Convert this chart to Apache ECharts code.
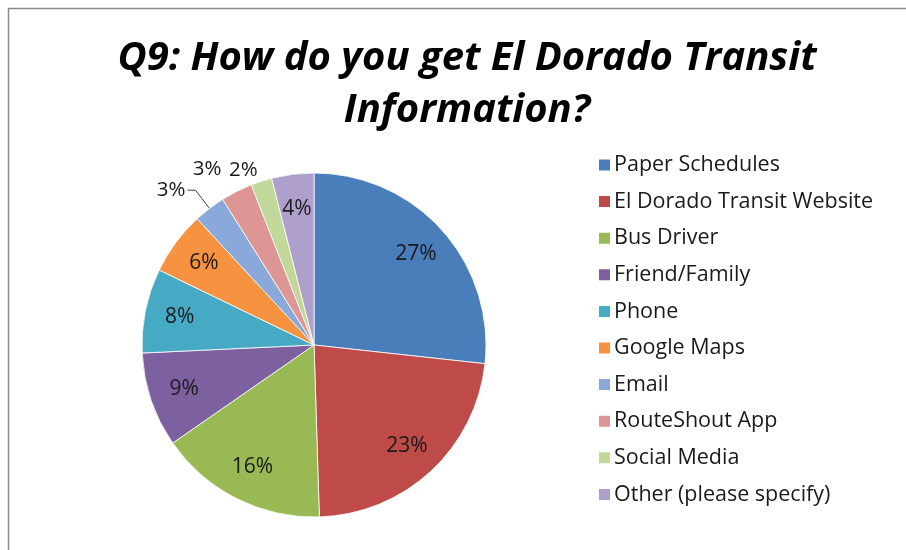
<!DOCTYPE html>
<html>
<head>
<meta charset="utf-8">
<script src="https://cdn.jsdelivr.net/npm/echarts@6/dist/echarts.min.js"></script>
<style>
html,body{margin:0;padding:0;background:#fff;}
#main{width:906px;height:550px;}
</style>
</head>
<body>
<div id="main"></div>
<script>
var categories = ['Paper Schedules','El Dorado Transit Website','Bus Driver','Friend/Family','Phone','Google Maps','Email','RouteShout App','Social Media','Other (please specify)'];
var values = [27, 23, 16, 9, 8, 6, 3, 3, 2, 4];
var colors = ['#4A7EBB','#BE4B48','#98B954','#7D60A0','#46AAC5','#F69240','#8AA8DA','#DE9694','#C1D89A','#AE9FCB'];

var chart = echarts.init(document.getElementById('main'));

var pieData = categories.map(function(n, i){
  return {name: n, value: values[i], itemStyle: {color: colors[i]}};
});

var outsideCfg = {
  6: {length: 23, length2: 8, showLine: true, dist: 2},
  7: {length: 25, length2: 4, showLine: false, dist: 0},
  8: {length: 12, length2: 0, showLine: false, dist: 0}
};

var labelData = categories.map(function(n, i){
  var d = {name: n, value: values[i], itemStyle: {color: 'rgba(0,0,0,0)'}};
  if (outsideCfg[i]) {
    d.label = {position: 'outside', distanceToLabelLine: outsideCfg[i].dist, fontSize: 20.5};
    d.labelLine = {show: true, length: outsideCfg[i].length, length2: outsideCfg[i].length2,
      lineStyle: {color: outsideCfg[i].showLine ? '#404040' : 'rgba(0,0,0,0)', width: 1}};
  }
  return d;
});

chart.setOption({
  animation: false,
  title: {
    text: 'Q9: How do you get El Dorado Transit\nInformation?',
    left: 462, top: 28, textAlign: 'center',
    textStyle: {fontFamily: 'Open Sans', fontSize: 40, fontWeight: 'bold', fontStyle: 'italic', color: '#000', lineHeight: 52}
  },
  legend: {
    orient: 'vertical', left: 592, top: 149,
    itemWidth: 13, itemHeight: 13, itemGap: 14.6,
    icon: 'rect',
    data: categories,
    textStyle: {fontFamily: 'Open Sans', fontSize: 21.5, color: '#1a1a1a', padding: [0,0,0,-2]},
    selectedMode: false
  },
  graphic: [{
    type: 'rect', silent: true, z: -1,
    shape: {x: 8.5, y: 8.5, width: 1000, height: 1000},
    style: {fill: 'none', stroke: '#8a8a8a', lineWidth: 1.5}
  }],
  series: [{
    type: 'pie',
    center: [314, 345], radius: [0, 172],
    startAngle: 90, clockwise: true,
    silent: true,
    label: {show: false}, labelLine: {show: false},
    itemStyle: {borderColor: '#fff', borderWidth: 0.8},
    data: pieData
  }, {
    type: 'pie',
    center: [314, 345], radius: [96, 172],
    startAngle: 90, clockwise: true,
    silent: true, avoidLabelOverlap: false,
    label: {show: true, position: 'inside', formatter: '{c}%', fontFamily: 'Open Sans', fontSize: 21, color: '#1a1a1a'},
    labelLine: {show: false},
    data: labelData
  }]
});
</script>
</body>
</html>
